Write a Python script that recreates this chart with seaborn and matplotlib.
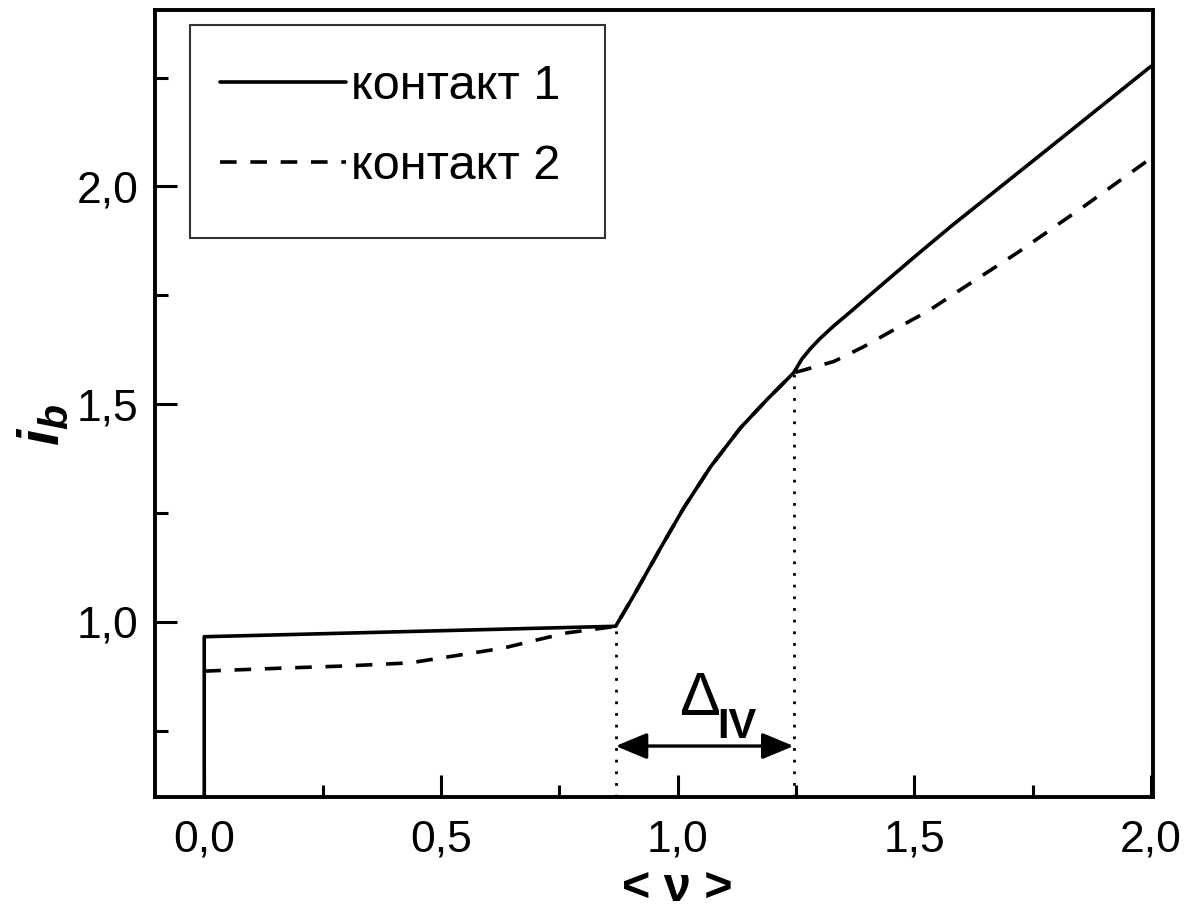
import matplotlib
matplotlib.use("Agg")
import matplotlib.pyplot as plt
import seaborn as sns
import pandas as pd
from matplotlib.patches import Rectangle

# ---- data ----
nu_c1 = [0.0, 0.0, 0.869, 0.907, 0.964, 1.013, 1.070, 1.133, 1.190, 1.245,
         1.262, 1.280, 1.300, 1.330, 1.365, 1.400, 1.500, 1.577, 1.789, 2.000]
ib_c1 = [0.60, 0.966, 0.990, 1.060, 1.170, 1.262, 1.357, 1.446, 1.512, 1.572,
         1.603, 1.627, 1.650, 1.680, 1.712, 1.745, 1.838, 1.908, 2.092, 2.276]

nu_c2 = [0.0, 0.167, 0.302, 0.435, 0.499, 0.569, 0.632, 0.704, 0.767, 0.844,
         0.869, 0.907, 0.964, 1.013, 1.070, 1.133, 1.190, 1.245,
         1.262, 1.330, 1.393, 1.457, 1.528, 1.592, 1.718, 1.858, 2.000]
ib_c2 = [0.887, 0.894, 0.899, 0.906, 0.917, 0.929, 0.940, 0.959, 0.975, 0.986,
         0.990, 1.060, 1.170, 1.262, 1.357, 1.446, 1.512, 1.572,
         1.577, 1.598, 1.632, 1.671, 1.713, 1.759, 1.848, 1.954, 2.065]

labels = ["контакт 1", "контакт 2"]
nu_iv_start, nu_iv_end = 0.869, 1.245
ib_iv_start, ib_iv_end = 0.990, 1.572
arrow_ib = 0.715
x_ticks = [0.0, 0.5, 1.0, 1.5, 2.0]
x_ticklabels = ["0,0", "0,5", "1,0", "1,5", "2,0"]
y_ticks = [1.0, 1.5, 2.0]
y_ticklabels = ["1,0", "1,5", "2,0"]

sns.set_style("ticks")
FONT = ["Liberation Sans", "DejaVu Sans"]
plt.rcParams["font.family"] = FONT
plt.rcParams["text.color"] = "black"
plt.rcParams["axes.labelcolor"] = "black"
plt.rcParams["xtick.color"] = "black"
plt.rcParams["ytick.color"] = "black"
plt.rcParams["mathtext.fontset"] = "custom"
plt.rcParams["mathtext.it"] = "Liberation Sans:italic:bold"
plt.rcParams["mathtext.rm"] = "Liberation Sans:bold"
plt.rcParams["mathtext.bf"] = "Liberation Sans:bold"

fig = plt.figure(figsize=(11.91, 9.17), dpi=100)
ax = fig.add_axes([155/1191, 1-797/917, (1153-155)/1191, (797-10)/917])

df1 = pd.DataFrame({"nu": nu_c1, "ib": ib_c1})
df2 = pd.DataFrame({"nu": nu_c2, "ib": ib_c2})

lw = 2.6
sns.lineplot(data=df2, x="nu", y="ib", ax=ax, sort=False, estimator=None,
             color="black", lw=lw, label=labels[1])
ax.lines[-1].set_dashes((4.6, 3.8))
sns.lineplot(data=df1, x="nu", y="ib", ax=ax, sort=False, estimator=None,
             color="black", lw=lw, label=labels[0])

ax.set_xlim(-0.104, 2.004)
ax.set_ylim(0.598, 2.405)

# dotted guides
ax.plot([nu_iv_start, nu_iv_start], [0.598, ib_iv_start], color="black",
        lw=2.0, dashes=(1, 3.2))
ax.plot([nu_iv_end, nu_iv_end], [0.598, ib_iv_end], color="black",
        lw=2.0, dashes=(1, 3.2))
ax.annotate("", xy=(nu_iv_end, arrow_ib), xytext=(nu_iv_start, arrow_ib),
            arrowprops=dict(arrowstyle="<|-|>,head_length=0.6,head_width=0.25",
                            lw=2.4, color="black",
                            mutation_scale=32, shrinkA=0, shrinkB=0))
ax.text(1.047, 0.786, "Δ", fontsize=44, ha="center", va="baseline")
ax.text(1.083, 0.733, "IV", fontsize=30, fontweight="bold", ha="left", va="baseline")

# ticks
ax.set_xticks(x_ticks)
ax.set_xticklabels(x_ticklabels)
ax.set_xticks([0.25, 0.75, 1.25, 1.75], minor=True)
ax.set_yticks(y_ticks)
ax.set_yticklabels(y_ticklabels)
ax.set_yticks([0.75, 1.25, 1.75, 2.25], minor=True)
ax.tick_params(axis="both", which="major", direction="in", length=16, width=2.2,
               labelsize=32, top=False, right=False)
ax.tick_params(axis="both", which="minor", direction="in", length=9, width=2.2,
               top=False, right=False)
ax.tick_params(axis="x", which="major", pad=16)
ax.tick_params(axis="y", which="major", pad=12)
for s in ax.spines.values():
    s.set_visible(True)
    s.set_linewidth(2.8)
    s.set_color("black")

ax.set_xlabel("")
ax.set_ylabel("")
fig.text(677/1191, 1-866/917, "< ν >", fontsize=35, fontweight="bold",
         ha="center", va="top")
fig.text(44/1191, 1-425/917, "$i_b$", fontsize=42, rotation=90,
         ha="center", va="center")

# legend
handles, labs = ax.get_legend_handles_labels()
order = [labs.index(labels[0]), labs.index(labels[1])]
leg = ax.legend([handles[i] for i in order], [labs[i] for i in order],
                loc="upper left", bbox_to_anchor=(0.065, 0.932), frameon=False,
                fontsize=35, handlelength=2.6, handletextpad=0.1,
                labelspacing=0.72, borderpad=0, borderaxespad=0)
ax.add_patch(Rectangle((0.035, 0.71), 0.416, 0.271, transform=ax.transAxes,
                       fill=False, lw=1.5, ec="#333333", zorder=5))

fig.savefig("out.png", dpi=100)
